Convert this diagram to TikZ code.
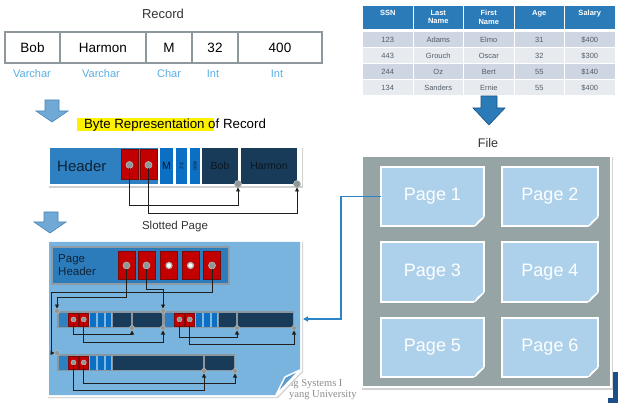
\documentclass[tikz,border=0pt]{standalone}
\usepackage{fontspec}
\setmainfont{Liberation Sans}
\newfontfamily\wmfont{Liberation Serif}
\usetikzlibrary{arrows.meta,calc}
\definecolor{tblgray}{HTML}{8E979C}
\definecolor{typeblue}{HTML}{5AAEE3}
\definecolor{hdrblue}{HTML}{2B7BB9}
\definecolor{rowA}{HTML}{CDD6E2}
\definecolor{rowB}{HTML}{E7EBF0}
\definecolor{tbltext}{HTML}{555D66}
\definecolor{arrLfill}{HTML}{70A8D6}
\definecolor{arrLdraw}{HTML}{4A86B9}
\definecolor{arrDfill}{HTML}{2B7BB9}
\definecolor{arrDdraw}{HTML}{1B5585}
\definecolor{hblue}{HTML}{2F80C1}
\definecolor{sblue}{HTML}{0B6FC3}
\definecolor{navy}{HTML}{173B58}
\definecolor{redfill}{HTML}{C20000}
\definecolor{reddraw}{HTML}{7A0A0A}
\definecolor{ptrgray}{HTML}{8F9799}
\definecolor{ptrring}{HTML}{B4BABC}
\definecolor{pagebg}{HTML}{79B4DF}
\definecolor{phblue}{HTML}{2C7CBC}
\definecolor{phborder}{HTML}{8E9CA7}
\definecolor{recgray}{HTML}{8A979E}
\definecolor{lightrec}{HTML}{80B8E1}
\definecolor{filebg}{HTML}{96A4A6}
\definecolor{pagefill}{HTML}{ADD1EB}
\definecolor{foldfill}{HTML}{D6E7F4}
\definecolor{linkblue}{HTML}{2B84C6}
\definecolor{hl}{HTML}{FFF200}
\definecolor{ttlgray}{HTML}{333333}
\definecolor{wmgray}{HTML}{8C8C8C}
\definecolor{darktext}{HTML}{0E2236}
\definecolor{segtext}{HTML}{0A1622}
\definecolor{curl}{HTML}{5E9ACB}
\definecolor{cornerblue}{HTML}{1A4F8A}
\begin{document}
\begin{tikzpicture}[x=1pt,y=-1pt,
  cell/.style={draw=tblgray,line width=1.2pt,minimum height=31pt,inner sep=0pt,outer sep=0pt,font=\fontsize{13.5}{16}\selectfont},
  typelbl/.style={text=typeblue,font=\fontsize{11}{13}\selectfont,inner sep=0pt},
  ttl/.style={text=ttlgray,inner sep=0pt},
  tcell/.style={minimum width=49.5pt,minimum height=15pt,inner sep=0pt,outer sep=0pt,text=tbltext,font=\fontsize{7.5}{9}\selectfont},
  htext/.style={text=white,font=\bfseries\fontsize{7.5}{8.5}\selectfont,align=center,inner sep=0pt,anchor=north},
  redbox/.style={fill=redfill,draw=reddraw,line width=1pt,inner sep=0pt,outer sep=0pt},
  ptr/.style={circle,fill=ptrgray,draw=ptrring,line width=0.6pt,minimum size=7pt,inner sep=0pt,outer sep=0pt},
  sptr/.style={circle,fill=ptrgray,draw=ptrring,line width=0.5pt,minimum size=5pt,inner sep=0pt,outer sep=0pt},
  wptr/.style={circle,fill=white,draw=ptrgray!70,line width=1.2pt,minimum size=6pt,inner sep=0pt,outer sep=0pt},
  conn/.style={draw=black!88,line width=0.9pt,-{Triangle[length=4pt,width=4pt]}},
  segnode/.style={fill=navy,minimum height=36pt,inner sep=0pt,outer sep=0pt,text=segtext,font=\fontsize{10.5}{12}\selectfont},
  pagenode/.style={fill=pagefill,draw=white,line width=2pt,inner sep=0pt,outer sep=0pt,text=white,font=\fontsize{18}{20}\selectfont},
  link/.style={draw=linkblue,line width=1.3pt,-{Triangle[length=5pt,width=5pt]}},
  lightarrow/.style={fill=arrLfill,draw=arrLdraw,line width=0.6pt},
  darkarrow/.style={fill=arrDfill,draw=arrDdraw,line width=0.6pt}
]
\useasboundingbox (0,0) rectangle (618,403);
\fill[white] (0,0) rectangle (618,403);

% ---------- Record ----------
\node[ttl,font=\fontsize{13}{15}\selectfont] (rectitle) at (163,14) {Record};
\node[cell,minimum width=55pt] (r1) at (32.5,47.5) {Bob};
\node[cell,minimum width=86pt] (r2) at (103,47.5) {Harmon};
\node[cell,minimum width=46pt] (r3) at (169,47.5) {M};
\node[cell,minimum width=46pt] (r4) at (215,47.5) {32};
\node[cell,minimum width=84pt] (r5) at (280,47.5) {400};
\node[typelbl] (t1) at (32,74) {Varchar};
\node[typelbl] (t2) at (101,74) {Varchar};
\node[typelbl] (t3) at (169,74) {Char};
\node[typelbl] (t4) at (213,74) {Int};
\node[typelbl] (t5) at (277,74) {Int};

% ---------- Table ----------
\foreach \k in {0,...,4}{\fill[hdrblue] ({363+\k*50.5},6) rectangle ++(49.5,23);}
\node[htext] (h1) at (387.75,10) {SSN};
\node[htext] (h2) at (438.25,10) {Last\\Name};
\node[htext] (h3) at (488.75,10) {First\\Name};
\node[htext] (h4) at (539.25,10) {Age};
\node[htext] (h5) at (589.75,10) {Salary};
\foreach \y/\f/\a/\b/\cc/\d/\e in {39.5/rowA/123/Adams/Elmo/31/400,55.5/rowB/443/Grouch/Oscar/32/300,71.5/rowA/244/Oz/Bert/55/140,87.5/rowB/134/Sanders/Ernie/55/400}{
  \node[tcell,fill=\f] (c\a-1) at (387.75,\y) {\a};
  \node[tcell,fill=\f] (c\a-2) at (438.25,\y) {\b};
  \node[tcell,fill=\f] (c\a-3) at (488.75,\y) {\cc};
  \node[tcell,fill=\f] (c\a-4) at (539.25,\y) {\d};
  \node[tcell,fill=\f] (c\a-5) at (589.75,\y) {\$\e};
}
\filldraw[darkarrow] (481,96) -- (497,96) -- (497,108) -- (505,108) -- (489,125) -- (473,108) -- (481,108) -- cycle;

% ---------- light arrows ----------
\filldraw[lightarrow] (45,100) -- (59,100) -- (59,111) -- (68,111) -- (52,122) -- (36,111) -- (45,111) -- cycle;
\filldraw[lightarrow] (44,212) -- (58,212) -- (58,222) -- (66,222) -- (50,233) -- (34,222) -- (44,222) -- cycle;

% ---------- Byte representation ----------
\fill[hl] (77,118) rectangle (214,131);
\node[ttl,text=black,font=\fontsize{13.3}{15}\selectfont] (bytetitle) at (175,125) {Byte Representation of Record};
\fill[black!18] (49,148) rectangle (303,188);
\fill[white] (48,146) rectangle (302,186);
\fill[hblue] (50,148) rectangle (158,184);
\node[inner sep=0pt,anchor=west,text=darktext,font=\fontsize{15}{17}\selectfont] (hdr) at (57,166) {Header};
\node[redbox,minimum width=17pt,minimum height=30pt] (br1) at (129.5,165) {};
\node[redbox,minimum width=17pt,minimum height=30pt] (br2) at (148.5,165) {};
\fill[sblue] (160,148) rectangle (173,184);
\node[inner sep=0pt,text=segtext,font=\fontsize{10.5}{12}\selectfont] (bm) at (166.5,166) {M};
\fill[sblue] (176,148) rectangle (187,184);
\node[inner sep=0pt,rotate=-90,text=segtext,font=\fontsize{5}{6}\selectfont] (b32) at (181.5,166) {3 2};
\fill[sblue] (190,148) rectangle (200,184);
\node[inner sep=0pt,rotate=-90,text=segtext,font=\fontsize{5}{6}\selectfont] (b400) at (195,166) {400};
\node[segnode,minimum width=36pt] (bbob) at (220,166) {Bob};
\node[segnode,minimum width=56pt] (bharm) at (269,166) {Harmon};
\node[ptr] (bc1) at (br1.center) {};
\node[ptr] (bc2) at (br2.center) {};
\node[ptr] (bt1) at (bbob.south east) {};
\node[ptr] (bt2) at (bharm.south east) {};
\draw[conn] (bc1.south) -- ++(0,36.5) -| (bt1.south);
\draw[conn] (bc2.south) -- ++(0,44.5) -| (bt2.south);

% ---------- watermark ----------
\node[anchor=base west,inner sep=0pt,text=wmgray,font=\wmfont\fontsize{10.5}{12}\selectfont] (wm1) at (288,386) {ng Systems I};
\node[anchor=base west,inner sep=0pt,text=wmgray,font=\wmfont\fontsize{10.5}{12}\selectfont] (wm2) at (289,397) {yang University};

% ---------- Slotted page ----------
\node[ttl,font=\fontsize{11.5}{13}\selectfont] (slottitle) at (175,227) {Slotted Page};
\fill[black!18] (48,242) -- (303,242) -- (303,372) -- (278,398) -- (48,398) -- cycle;
\fill[white] (47,240) -- (302,240) -- (302,371) -- (277,397) -- (47,397) -- cycle;
\fill[pagebg] (49,242) -- (300,242) -- (300,370) -- (276,395) -- (49,395) -- cycle;
\filldraw[fill=curl,draw=white,line width=1.5pt,line join=round] (300,370) -- (285,377) -- (276,395) -- cycle;

\node[fill=phblue,draw=phborder,line width=1.5pt,minimum width=177pt,minimum height=37pt,inner sep=0pt] (ph) at (140.5,265.5) {};
\node[anchor=west,align=left,inner sep=0pt,text=darktext,font=\fontsize{11.5}{13}\selectfont] (phl) at (58,265.5) {Page\\Header};
\foreach \i/\x in {1/126.5,2/146.5,3/169,4/190.5,5/212}{
  \node[redbox,minimum width=17pt,minimum height=27pt] (s\i) at (\x,265.5) {};
}
\node[ptr] (sc1) at (s1.center) {};
\node[ptr] (sc2) at (s2.center) {};
\node[wptr] (sc3) at (s3.center) {};
\node[wptr] (sc4) at (s4.center) {};
\node[ptr] (sc5) at (s5.center) {};

% records
\foreach \k/\L/\T/\D/\R in {1/57/311/132/163,2/163/311/237/294,3/57/354/204/235}{
  \fill[recgray] (\L,\T) rectangle (\R,\T+17);
  \fill[lightrec] (\L+1.5,\T+1.5) rectangle (\L+54.5,\T+15.5);
  \fill[hblue] (\L+1.5,\T+1.5) rectangle (\L+11,\T+15.5);
  \node[redbox,minimum width=10pt,minimum height=13pt] (ra\k) at (\L+16.5,\T+8.5) {};
  \node[redbox,minimum width=9.5pt,minimum height=13pt] (rb\k) at (\L+26.75,\T+8.5) {};
  \fill[sblue] (\L+33,\T+1.5) rectangle (\L+39,\T+15.5);
  \fill[sblue] (\L+41,\T+1.5) rectangle (\L+47,\T+15.5);
  \fill[sblue] (\L+49,\T+1.5) rectangle (\L+54,\T+15.5);
  \fill[navy] (\L+56,\T+1.5) rectangle (\D-1,\T+15.5);
  \fill[navy] (\D+1,\T+1.5) rectangle (\R-1.5,\T+15.5);
  \node[sptr] (ca\k) at (ra\k.center) {};
  \node[sptr] (cb\k) at (rb\k.center) {};
}
\node[sptr] (tl1) at (57,311) {};
\node[sptr] (tl2) at (163,311) {};
\node[sptr] (tl3) at (57,353) {};
\node[sptr] (e11) at (132,328) {};
\node[sptr] (e12) at (163,328) {};
\node[sptr] (e21) at (237,328) {};
\node[sptr] (e22) at (294,328) {};
\node[sptr] (e31) at (204,371) {};
\node[sptr] (e32) at (235,371) {};

\draw[conn] (sc1.south) -- ++(0,28) -| (tl1.north);
\draw[conn] (sc2.south) -- ++(0,20) -| (tl2.north);
\draw[conn] (sc5.south) -- ++(0,23) -- ++(-161,0) |- (tl3.west);
\draw[conn] (ca1.south) -- ++(0,12.5) -| (e11.south);
\draw[conn] (cb1.south) -- ++(0,20.5) -| (e12.south);
\draw[conn] (ca2.south) -- ++(0,15.5) -| (e21.south);
\draw[conn] (cb2.south) -- ++(0,22.5) -| (e22.south);
\draw[conn] (ca3.south) -- ++(0,25) -| (e31.south);
\draw[conn] (cb3.south) -- ++(0,18) -| (e32.south);

% ---------- File ----------
\node[ttl,font=\fontsize{12.5}{14}\selectfont] (filetitle) at (488,143) {File};
\fill[black!18] (362,157) rectangle (613,390);
\fill[white] (361,155) rectangle (612,388);
\fill[filebg] (363,157) rectangle (610,386);
\foreach \i/\cx/\cy/\w in {1/432.5/196.5/103,2/550/196.5/96,3/432.5/272/103,4/550/272/96,5/432.5/347/103,6/550/347/96}{
  \node[pagenode,minimum width=\w pt,minimum height=59pt] (p\i) at (\cx,\cy) {Page \i};
  \fill[filebg] ($(p\i.south east)+(1.6,1.6)$) -- ++(-12.2,0) -- ++(12.2,-12.2) -- cycle;
  \filldraw[fill=foldfill,draw=white,line width=1.3pt,line join=round] ($(p\i.south east)+(-9,0)$) -- ($(p\i.south east)+(0,-9)$) -- ($(p\i.south east)+(-6,-4)$) -- cycle;
}
\coordinate (ltip) at (303,319);
\draw[link] (p1.west) -- ++(-40,0) |- (ltip);

% corner fragment
\fill[cornerblue] (613,372) rectangle (618,403);
\fill[cornerblue] (608,398) rectangle (618,403);
\end{tikzpicture}
\end{document}
